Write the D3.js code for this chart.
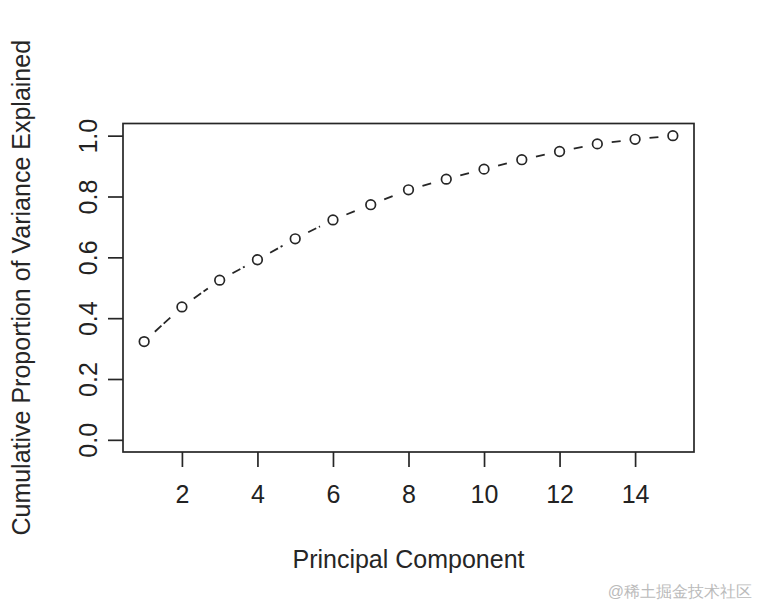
<!DOCTYPE html>
<html>
<head>
<meta charset="utf-8">
<script src="https://cdn.jsdelivr.net/npm/d3@7"></script>
<style>
  html, body { margin: 0; padding: 0; background: #fff; }
  svg { display: block; }
  text { font-family: "Liberation Sans", Arial, sans-serif; fill: #222; }
</style>
</head>
<body>
<div id="chart"></div>
<script>
// ---- data ----
const components = [1, 2, 3, 4, 5, 6, 7, 8, 9, 10, 11, 12, 13, 14, 15];
const cumulativeVariance = [0.323, 0.437, 0.525, 0.592, 0.661, 0.723, 0.773, 0.822, 0.857, 0.890, 0.921, 0.948, 0.973, 0.988, 1.000];
const xTicks = [2, 4, 6, 8, 10, 12, 14];
const yTicks = [0.0, 0.2, 0.4, 0.6, 0.8, 1.0];
const xTitle = "Principal Component";
const yTitle = "Cumulative Proportion of Variance Explained";
const watermark = "@稀土掘金技术社区";

// ---- layout ----
const W = 758, H = 606;
const box = { left: 123, right: 694, top: 123.5, bottom: 452 };

const svg = d3.select("#chart").append("svg")
  .attr("width", W).attr("height", H);

// R-style 4% axis extension
const xMin = d3.min(components), xMax = d3.max(components);
const xExt = (xMax - xMin) * 0.04;
const x = d3.scaleLinear().domain([xMin - xExt, xMax + xExt]).range([box.left, box.right]);
const y = d3.scaleLinear().domain([0 - 0.04, 1 + 0.04]).range([box.bottom, box.top]);

const fs = 25;
const ink = "#262626";

// plot frame
svg.append("rect")
  .attr("x", box.left).attr("y", box.top)
  .attr("width", box.right - box.left).attr("height", box.bottom - box.top)
  .attr("fill", "none").attr("stroke", ink).attr("stroke-width", 1.7);

// x axis
const xAxis = d3.axisBottom(x).tickValues(xTicks).tickSize(15).tickPadding(18)
  .tickFormat(d3.format("d"));
const gx = svg.append("g").attr("transform", `translate(0,${box.bottom})`).call(xAxis);
gx.select(".domain").remove();
gx.selectAll(".tick line").attr("stroke", ink).attr("stroke-width", 1.7);
gx.selectAll(".tick text").attr("font-size", fs).attr("fill", ink)
  .attr("font-family", "Liberation Sans, Arial, sans-serif");

// y axis (rotated labels like R las=0)
const yAxis = d3.axisLeft(y).tickValues(yTicks).tickSize(15).tickFormat(d3.format(".1f"));
const gy = svg.append("g").attr("transform", `translate(${box.left},0)`).call(yAxis);
gy.select(".domain").remove();
gy.selectAll(".tick line").attr("stroke", ink).attr("stroke-width", 1.7);
gy.selectAll(".tick text")
  .attr("font-size", fs).attr("fill", ink)
  .attr("font-family", "Liberation Sans, Arial, sans-serif")
  .attr("x", null).attr("dy", null)
  .attr("text-anchor", "middle")
  .attr("transform", `translate(${97 - box.left},0) rotate(-90)`);

// axis titles
svg.append("text")
  .attr("x", (box.left + box.right) / 2).attr("y", 568)
  .attr("text-anchor", "middle").attr("font-size", fs).style("fill", ink)
  .text(xTitle);
svg.append("text")
  .attr("transform", `translate(30,${(box.top + box.bottom) / 2}) rotate(-90)`)
  .attr("text-anchor", "middle").attr("font-size", fs).style("fill", ink)
  .text(yTitle);

// data: type="b" style — dashed segments with gaps around points
const pts = components.map((c, i) => ({ px: x(c), py: y(cumulativeVariance[i]) }));
const gap = 14.5;
const segs = d3.pairs(pts).map(([a, b]) => {
  const dx = b.px - a.px, dy = b.py - a.py;
  const d = Math.hypot(dx, dy);
  const ux = dx / d, uy = dy / d;
  return { x1: a.px + ux * gap, y1: a.py + uy * gap, x2: b.px - ux * gap, y2: b.py - uy * gap, ok: d > 2 * gap };
}).filter(s => s.ok);

svg.append("g").selectAll("line").data(segs).join("line")
  .attr("x1", d => d.x1).attr("y1", d => d.y1)
  .attr("x2", d => d.x2).attr("y2", d => d.y2)
  .attr("stroke", ink).attr("stroke-width", 1.8)
  .attr("stroke-dasharray", "9,3");

svg.append("g").selectAll("circle").data(pts).join("circle")
  .attr("cx", d => d.px).attr("cy", d => d.py).attr("r", 4.8)
  .attr("fill", "none").attr("stroke", ink).attr("stroke-width", 1.7);

// watermark
svg.append("text")
  .attr("x", 752).attr("y", 597).attr("text-anchor", "end")
  .attr("font-size", 16)
  .attr("font-family", "Noto Sans CJK SC, sans-serif")
  .style("fill", "#bbbbbb")
  .text(watermark);
</script>
</body>
</html>
